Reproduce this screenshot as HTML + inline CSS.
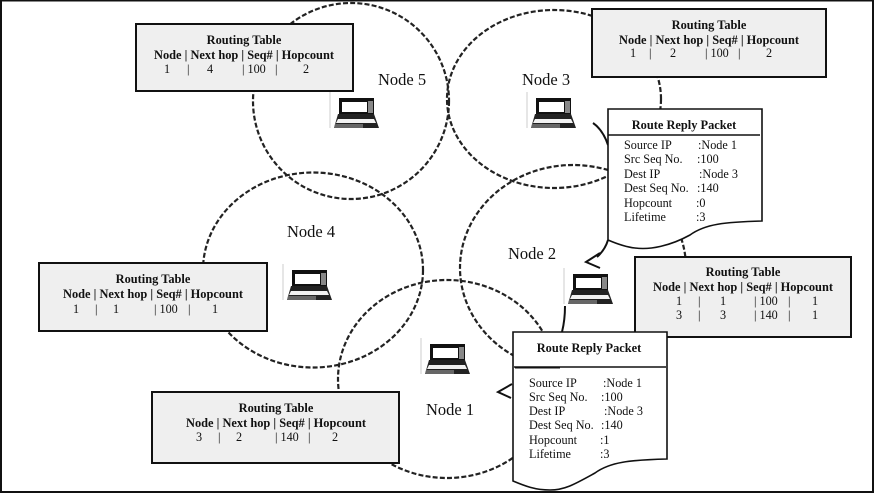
<!DOCTYPE html>
<html><head><meta charset="utf-8">
<style>
html,body{margin:0;padding:0;background:#fff}
svg{display:block}
text{font-family:"Liberation Serif",serif;fill:#111}
.n{font-size:16.5px}
.t{font-size:12.4px;font-weight:bold}
.v{font-size:12.2px}
.m{text-anchor:middle}
.c{fill:none;stroke:#222;stroke-width:2.200;stroke-dasharray:5 2.200}
.b{fill:#efefef;stroke:#111;stroke-width:2}
.p{fill:#fff;stroke:#111;stroke-width:1.600}
.a{fill:none;stroke:#111;stroke-width:2}
</style></head>
<body>
<svg width="874" height="493" viewBox="0 0 874 493" xmlns="http://www.w3.org/2000/svg">
<defs>
<g id="lap">
<path d="M-7 -7V29" stroke="#ccc" stroke-width="1" fill="none"/>
<rect x="2" y="-1" width="35" height="17" fill="#111"/>
<rect x="5" y="3" width="25" height="10" fill="#fff"/>
<rect x="31" y="2" width="5" height="12" fill="#888"/>
<path d="M1 15H37L42 29H-3Z" fill="#222"/>
<path d="M1 20H37L39 24H-1Z" fill="#f2f2f2"/>
<path d="M-2 25H26V29H-3Z" fill="#666"/>
</g>
</defs>
<rect x="1" y="0.500" width="872" height="491.500" fill="#fff" stroke="#111" stroke-width="2"/>

<ellipse class="c" cx="351" cy="101" rx="98" ry="98"/>
<ellipse class="c" cx="554" cy="99" rx="107" ry="89"/>
<ellipse class="c" cx="313" cy="270" rx="110" ry="97.500"/>
<ellipse class="c" cx="573" cy="268" rx="113" ry="103"/>
<ellipse class="c" cx="447" cy="379" rx="109" ry="99"/>

<use href="#lap" x="337" y="99"/>
<use href="#lap" x="534" y="99"/>
<use href="#lap" x="290" y="271"/>
<use href="#lap" x="428" y="345"/>
<use href="#lap" x="571" y="275"/>

<text class="n" x="378" y="85">Node 5</text>
<text class="n" x="522" y="85">Node 3</text>
<text class="n" x="508" y="259">Node 2</text>
<text class="n" x="287" y="237">Node 4</text>
<text class="n" x="426" y="415">Node 1</text>

<!-- Table 5 -->
<rect class="b" x="136" y="24" width="217" height="67"/>
<text class="t m" x="244" y="44">Routing Table</text>
<text class="t m" x="244" y="59">Node | Next hop | Seq# | Hopcount</text>
<text class="v" x="164" y="73">1</text><text class="v" x="187" y="73">|</text><text class="v" x="207" y="73">4</text><text class="v" x="242" y="73">| 100</text><text class="v" x="275" y="73">|</text><text class="v" x="303" y="73">2</text>

<!-- Table 3 -->
<rect class="b" x="592" y="9" width="234" height="68"/>
<text class="t m" x="709" y="29">Routing Table</text>
<text class="t m" x="709" y="44">Node | Next hop | Seq# | Hopcount</text>
<text class="v" x="630" y="57">1</text><text class="v" x="649" y="57">|</text><text class="v" x="670" y="57">2</text><text class="v" x="705" y="57">| 100</text><text class="v" x="738" y="57">|</text><text class="v" x="766" y="57">2</text>

<!-- Table 2 -->
<rect class="b" x="635" y="257" width="216" height="80"/>
<text class="t m" x="743" y="276">Routing Table</text>
<text class="t m" x="743" y="291">Node | Next hop | Seq# | Hopcount</text>
<text class="v" x="676" y="305">1</text><text class="v" x="698" y="305">|</text><text class="v" x="720" y="305">1</text><text class="v" x="754" y="305">| 100</text><text class="v" x="788" y="305">|</text><text class="v" x="812" y="305">1</text>
<text class="v" x="676" y="319">3</text><text class="v" x="698" y="319">|</text><text class="v" x="720" y="319">3</text><text class="v" x="754" y="319">| 140</text><text class="v" x="788" y="319">|</text><text class="v" x="812" y="319">1</text>

<!-- Table 4 -->
<rect class="b" x="39" y="263" width="228" height="68"/>
<text class="t m" x="153" y="283">Routing Table</text>
<text class="t m" x="153" y="298">Node | Next hop | Seq# | Hopcount</text>
<text class="v" x="73" y="313">1</text><text class="v" x="95" y="313">|</text><text class="v" x="113" y="313">1</text><text class="v" x="154" y="313">| 100</text><text class="v" x="188" y="313">|</text><text class="v" x="212" y="313">1</text>

<!-- Table 1 -->
<rect class="b" x="152" y="392" width="247" height="71"/>
<text class="t m" x="276" y="412">Routing Table</text>
<text class="t m" x="276" y="427">Node | Next hop | Seq# | Hopcount</text>
<text class="v" x="196" y="441">3</text><text class="v" x="218" y="441">|</text><text class="v" x="236" y="441">2</text><text class="v" x="275" y="441">| 140</text><text class="v" x="308" y="441">|</text><text class="v" x="332" y="441">2</text>

<!-- Arrows -->
<path class="a" d="M593 123Q603 130 608 145"/>
<path class="a" d="M608 240Q605 250 597 257" stroke-width="2.500"/>
<path class="a" d="M600 253L586 262L600 268"/>
<path class="a" d="M565 306Q565 320 562 332"/>
<path class="a" d="M512 384L498 392L511 398"/>

<!-- Packet 3 -->
<path class="p" d="M608 109H762V221C725 222 705 224 690 235C670 246 650 250 635 248C625 247 615 243 608 240Z"/>
<path d="M608 135H760" stroke="#111" stroke-width="1.500"/>
<text class="t m" x="684" y="129">Route Reply Packet</text>
<text class="v" x="624" y="149">Source IP</text><text class="v" x="698" y="149">:Node 1</text>
<text class="v" x="624" y="163">Src Seq No.</text><text class="v" x="697" y="163">:100</text>
<text class="v" x="624" y="178">Dest IP</text><text class="v" x="699" y="178">:Node 3</text>
<text class="v" x="624" y="192">Dest Seq No.</text><text class="v" x="697" y="192">:140</text>
<text class="v" x="624" y="207">Hopcount</text><text class="v" x="696" y="207">:0</text>
<text class="v" x="624" y="221">Lifetime</text><text class="v" x="696" y="221">:3</text>

<!-- Packet 1 -->
<path class="p" d="M513 332H667V459C630 460 610 462 595 473C575 484 565 490 550 490C535 490 525 486 513 481Z"/>
<path d="M514 367H666" stroke="#111" stroke-width="1.500"/>
<path d="M515 367.500H560" stroke="#111" stroke-width="2"/>
<text class="t m" x="589" y="352">Route Reply Packet</text>
<text class="v" x="529" y="387">Source IP</text><text class="v" x="603" y="387">:Node 1</text>
<text class="v" x="529" y="401">Src Seq No.</text><text class="v" x="601" y="401">:100</text>
<text class="v" x="529" y="415">Dest IP</text><text class="v" x="604" y="415">:Node 3</text>
<text class="v" x="529" y="429">Dest Seq No.</text><text class="v" x="601" y="429">:140</text>
<text class="v" x="529" y="444">Hopcount</text><text class="v" x="600" y="444">:1</text>
<text class="v" x="529" y="458">Lifetime</text><text class="v" x="600" y="458">:3</text>
</svg>
</body></html>
